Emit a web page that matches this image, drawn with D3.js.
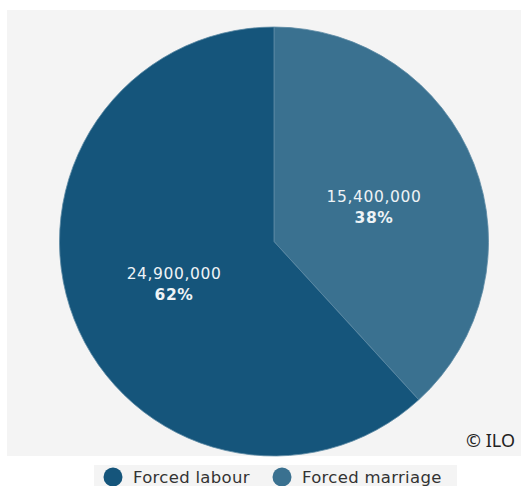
<!DOCTYPE html>
<meta charset="utf-8">
<style>
body {
  margin: 0;
  background: #fff;
  font-family: "DejaVu Sans", "Noto Sans", sans-serif;
}
.slice-label {
  fill: #eef3f6;
  font-size: 15.5px;
  letter-spacing: 0.6px;
  text-anchor: middle;
}
</style>
<body>
<script src="https://cdn.jsdelivr.net/npm/d3@7"></script>
<script>

var width = 521,
    height = 486;

var categories = ["Forced marriage", "Forced labour"];
var values = [15400000, 24900000];
var shares = ["38%", "62%"];
var colors = ["#3a7190", "#15557b"];
var legendOrder = ["Forced labour", "Forced marriage"];

var svg = d3.select("body").append("svg")
    .attr("width", width)
    .attr("height", height);

// grey panel
svg.append("rect")
    .attr("x", 7)
    .attr("y", 10)
    .attr("width", width - 7)
    .attr("height", 446)
    .attr("fill", "#f4f4f4");

var cx = 274, cy = 241.5, radius = 214.5;

var color = d3.scaleOrdinal()
    .domain(categories)
    .range(colors);

var pie = d3.pie()
    .sort(null)
    .value(function(d, i) { return values[i]; });

var arc = d3.arc()
    .innerRadius(0)
    .outerRadius(radius);

var arcs = pie(categories);

var g = svg.append("g")
    .attr("transform", "translate(" + cx + "," + cy + ")");

g.selectAll("path")
    .data(arcs)
  .enter().append("path")
    .attr("d", arc)
    .attr("fill", function(d) { return color(d.data); })
    .attr("stroke", "#5d8aa5")
    .attr("stroke-width", 0.8);

var fmt = d3.format(",");

var labels = g.selectAll(".slice-label")
    .data(arcs)
  .enter().append("text")
    .attr("class", "slice-label")
    .attr("transform", function(d) {
      var c = arc.centroid(d);
      return "translate(" + c[0] + "," + (c[1] - 1) + ")";
    });

labels.append("tspan")
    .attr("x", 0)
    .attr("dy", 0)
    .text(function(d) { return fmt(values[d.index]); });

labels.append("tspan")
    .attr("x", 0)
    .attr("dy", 21)
    .attr("font-weight", "bold")
    .text(function(d) { return shares[d.index]; });

// credit
svg.append("text")
    .attr("x", 515)
    .attr("y", 447)
    .attr("text-anchor", "end")
    .attr("font-family", "Noto Sans")
    .attr("font-size", 18)
    .attr("fill", "#222")
    .text("\u00a9 ILO");

// legend
var legend = svg.append("g");

legend.append("rect")
    .attr("x", 94)
    .attr("y", 465)
    .attr("width", 363)
    .attr("height", 21)
    .attr("fill", "#f4f4f4");

var legendX = [113, 282];

var item = legend.selectAll(".item")
    .data(legendOrder)
  .enter().append("g")
    .attr("class", "item")
    .attr("transform", function(d, i) { return "translate(" + legendX[i] + ",477)"; });

item.append("circle")
    .attr("r", 9.5)
    .attr("fill", function(d) { return color(d); });

item.append("text")
    .attr("x", 20)
    .attr("y", 6)
    .attr("font-size", 16.5)
    .attr("letter-spacing", 0.3)
    .attr("fill", "#333")
    .text(function(d) { return d; });

</script>
